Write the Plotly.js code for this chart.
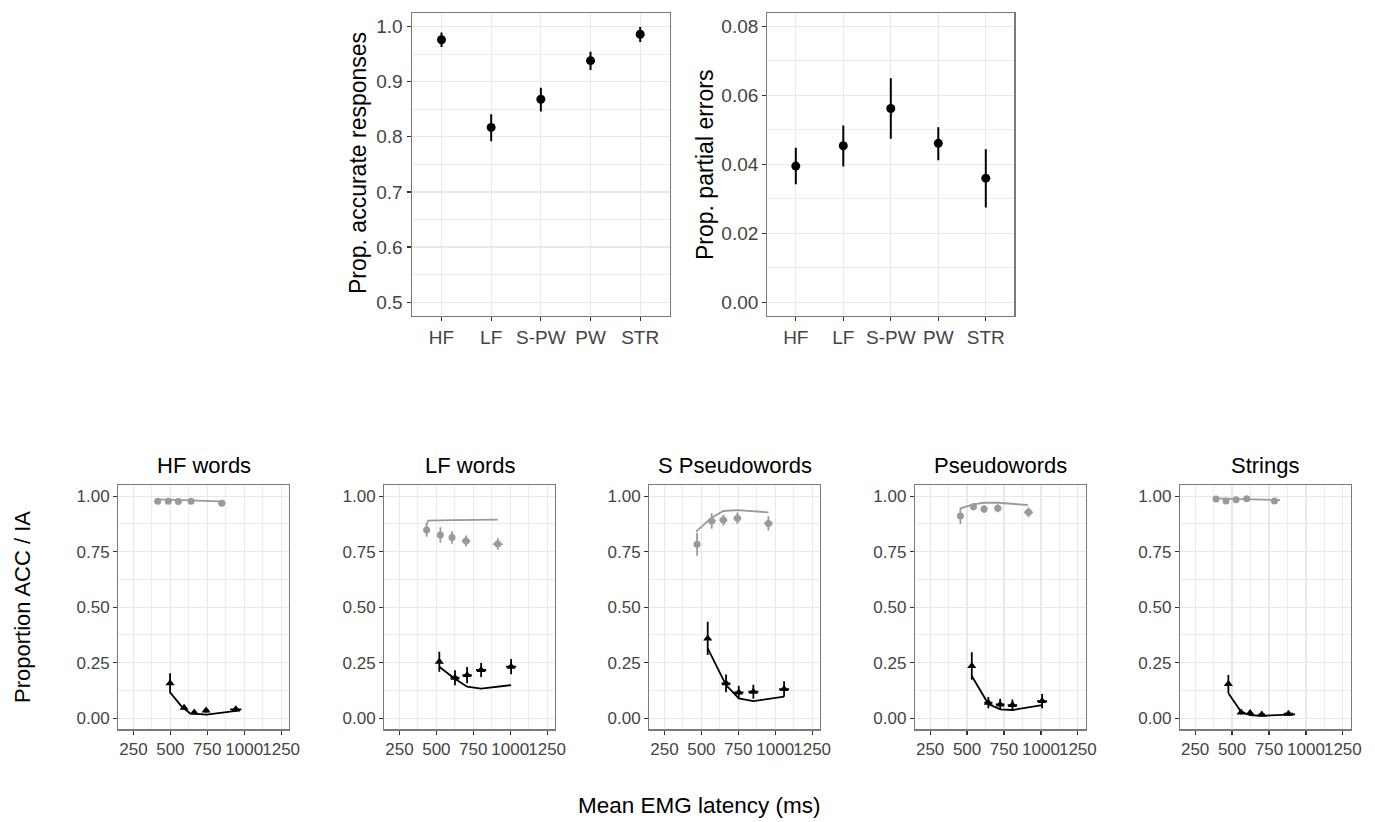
<!DOCTYPE html>
<html><head><meta charset="utf-8">
<script src="https://cdn.plot.ly/plotly-3.0.1.min.js"></script>
<style>html,body{margin:0;padding:0;background:#fff}#chart{width:1375px;height:822px}</style>
</head><body><div id="chart"></div>
<script>
// ---------- Top panels ----------
const categories = ['HF', 'LF', 'S-PW', 'PW', 'STR'];
const propAccurate   = [0.976, 0.817, 0.868, 0.938, 0.986];
const propAccurateLo = [0.963, 0.792, 0.846, 0.921, 0.972];
const propAccurateHi = [0.989, 0.841, 0.889, 0.954, 0.999];
const propPartial    = [0.0395, 0.0454, 0.0562, 0.0461, 0.0360];
const propPartialLo  = [0.0342, 0.0394, 0.0474, 0.0412, 0.0275];
const propPartialHi  = [0.0448, 0.0513, 0.0650, 0.0508, 0.0444];

// ---------- Bottom panels (one inner array per panel) ----------
const panelTitles = ['HF words', 'LF words', 'S Pseudowords', 'Pseudowords', 'Strings'];
const xTicks = [250, 500, 750, 1000, 1250];
const yTicks = [0, 0.25, 0.5, 0.75, 1.0];

// accuracy (grey): observed
const accLatency = [
  [414, 486, 554, 640, 848],
  [434, 527, 606, 701, 916],
  [471, 570, 649, 744, 954],
  [455, 543, 615, 708, 916],
  [391, 459, 527, 599, 787]
];
const accObserved = [
  [0.977, 0.977, 0.976, 0.977, 0.968],
  [0.847, 0.825, 0.814, 0.798, 0.784],
  [0.783, 0.888, 0.892, 0.900, 0.877],
  [0.910, 0.952, 0.942, 0.945, 0.927],
  [0.987, 0.978, 0.984, 0.988, 0.978]
];
const accErrY = [
  [0.006, 0.005, 0.005, 0.005, 0.008],
  [0.030, 0.035, 0.028, 0.025, 0.026],
  [0.052, 0.035, 0.024, 0.026, 0.032],
  [0.036, 0.016, 0.018, 0.018, 0.022],
  [0.004, 0.005, 0.004, 0.004, 0.006]
];
const accErrX = [
  [8, 8, 8, 10, 24],
  [8, 10, 14, 29, 34],
  [6, 27, 27, 27, 30],
  [6, 22, 22, 26, 30],
  [8, 8, 8, 8, 18]
];
// accuracy (grey): model prediction
const accPredLatency = [
  [403, 486, 554, 640, 870],
  [434, 445, 606, 916],
  [464, 570, 649, 744, 954],
  [455, 543, 615, 708, 911],
  [385, 459, 527, 599, 825]
];
const accPredicted = [
  [0.985, 0.984, 0.983, 0.981, 0.975],
  [0.872, 0.890, 0.892, 0.894],
  [0.840, 0.903, 0.933, 0.937, 0.927],
  [0.945, 0.963, 0.970, 0.970, 0.960],
  [0.990, 0.989, 0.988, 0.987, 0.982]
];

// incorrect activations (black): observed
const iaLatency = [
  [498, 593, 662, 742, 943],
  [520, 626, 708, 803, 1006],
  [543, 667, 753, 852, 1060],
  [532, 644, 724, 807, 1008],
  [475, 561, 622, 701, 882]
];
const iaObserved = [
  [0.157, 0.047, 0.026, 0.035, 0.040],
  [0.254, 0.182, 0.194, 0.217, 0.232],
  [0.359, 0.157, 0.116, 0.119, 0.131],
  [0.235, 0.070, 0.062, 0.059, 0.077],
  [0.154, 0.026, 0.023, 0.017, 0.020]
];
const iaErrY = [
  [0.045, 0.010, 0.008, 0.010, 0.010],
  [0.045, 0.034, 0.037, 0.032, 0.034],
  [0.075, 0.040, 0.030, 0.032, 0.035],
  [0.062, 0.025, 0.025, 0.025, 0.032],
  [0.040, 0.008, 0.008, 0.006, 0.008]
];
const iaErrX = [
  [8, 12, 14, 18, 38],
  [14, 30, 32, 34, 34],
  [14, 30, 32, 34, 34],
  [12, 28, 30, 32, 34],
  [8, 14, 16, 22, 32]
];
// incorrect activations (black): model prediction
const iaPredLatency = [
  [498, 577, 633, 746, 972],
  [520, 622, 708, 803, 1006],
  [543, 667, 753, 852, 1060],
  [532, 644, 724, 807, 1008],
  [475, 561, 622, 701, 927]
];
const iaPredicted = [
  [0.116, 0.052, 0.022, 0.016, 0.035],
  [0.232, 0.179, 0.142, 0.133, 0.149],
  [0.314, 0.149, 0.089, 0.077, 0.097],
  [0.190, 0.064, 0.040, 0.037, 0.059],
  [0.112, 0.029, 0.014, 0.011, 0.017]
];

// ---------- styling ----------
const FONT = 'Liberation Sans, Arial, Helvetica, sans-serif';
const GREY = '#9a9a9a';
const GRID = '#e8e8e8';
const BORDER = '#7a7a7a';
const TICKC = '#444444';
const W = 1375, H = 822;
const px = (a, b) => [a / W, b / W];
const py = (top, bottom) => [1 - bottom / H, 1 - top / H];

const traces = [];
const layout = {
  width: W, height: H,
  margin: {l: 0, r: 0, t: 0, b: 0},
  paper_bgcolor: '#fff', plot_bgcolor: '#fff',
  showlegend: false,
  font: {family: FONT, color: '#000'},
  annotations: []
};

function baseAxis(extra) {
  return Object.assign({
    showline: true, mirror: true, linecolor: BORDER, linewidth: 1.2,
    ticks: 'outside', ticklen: 4, tickwidth: 1.2, tickcolor: '#333',
    showgrid: true, gridcolor: GRID, gridwidth: 1.2,
    zeroline: false, fixedrange: true, tickangle: 0, automargin: false,
    tickfont: {family: FONT, size: 19, color: TICKC}
  }, extra);
}

// Top-left panel
traces.push({
  type: 'scatter', mode: 'markers', xaxis: 'x', yaxis: 'y',
  x: categories, y: propAccurate,
  marker: {color: '#000', size: 9},
  error_y: {type: 'data', symmetric: false,
    array: propAccurate.map((v, i) => propAccurateHi[i] - v),
    arrayminus: propAccurate.map((v, i) => v - propAccurateLo[i]),
    width: 0, thickness: 2, color: '#000'}
});
layout.xaxis = baseAxis({domain: px(411.7, 670), anchor: 'y', type: 'category',
  categoryorder: 'array', categoryarray: categories, range: [-0.6, 4.6]});
layout.yaxis = baseAxis({domain: py(12.7, 316), anchor: 'x', range: [0.475, 1.025],
  tickvals: [0.5, 0.6, 0.7, 0.8, 0.9, 1.0], tickformat: '.1f',
  minor: {tickvals: [0.55, 0.65, 0.75, 0.85, 0.95], showgrid: true, gridcolor: GRID, gridwidth: 0.8, ticks: ''}});

// Top-right panel
traces.push({
  type: 'scatter', mode: 'markers', xaxis: 'x2', yaxis: 'y2',
  x: categories, y: propPartial,
  marker: {color: '#000', size: 9},
  error_y: {type: 'data', symmetric: false,
    array: propPartial.map((v, i) => propPartialHi[i] - v),
    arrayminus: propPartial.map((v, i) => v - propPartialLo[i]),
    width: 0, thickness: 2, color: '#000'}
});
layout.xaxis2 = baseAxis({domain: px(767.3, 1014.3), anchor: 'y2', type: 'category',
  categoryorder: 'array', categoryarray: categories, range: [-0.6, 4.6]});
layout.yaxis2 = baseAxis({domain: py(12.7, 316), anchor: 'x2', range: [-0.004, 0.084],
  tickvals: [0, 0.02, 0.04, 0.06, 0.08], tickformat: '.2f',
  minor: {tickvals: [0.01, 0.03, 0.05, 0.07], showgrid: true, gridcolor: GRID, gridwidth: 0.8, ticks: ''}});

layout.annotations.push({text: 'Prop. accurate responses', xref: 'paper', yref: 'paper',
  x: 358 / W, y: 1 - 163 / H, xanchor: 'center', yanchor: 'middle', textangle: -90,
  showarrow: false, font: {family: FONT, size: 23, color: '#000'}});
layout.annotations.push({text: 'Prop. partial errors', xref: 'paper', yref: 'paper',
  x: 705 / W, y: 1 - 165 / H, xanchor: 'center', yanchor: 'middle', textangle: -90,
  showarrow: false, font: {family: FONT, size: 23, color: '#000'}});

// Bottom panels
const panelLeft = [118.3, 384.3, 649.3, 915, 1180];
const panelWidth = 170.6;
for (let i = 0; i < 5; i++) {
  const n = i + 3;
  const xa = 'x' + n, ya = 'y' + n;
  traces.push({type: 'scatter', mode: 'lines', xaxis: xa, yaxis: ya,
    x: accPredLatency[i], y: accPredicted[i], line: {color: GREY, width: 1.8}});
  traces.push({type: 'scatter', mode: 'lines', xaxis: xa, yaxis: ya,
    x: iaPredLatency[i], y: iaPredicted[i], line: {color: '#000', width: 1.8}});
  traces.push({type: 'scatter', mode: 'markers', xaxis: xa, yaxis: ya,
    x: accLatency[i], y: accObserved[i],
    marker: {color: GREY, size: 7, symbol: 'circle'},
    error_y: {type: 'data', array: accErrY[i], width: 0, thickness: 1.8, color: GREY},
    error_x: {type: 'data', array: accErrX[i], width: 0, thickness: 1.8, color: GREY}});
  traces.push({type: 'scatter', mode: 'markers', xaxis: xa, yaxis: ya,
    x: iaLatency[i], y: iaObserved[i],
    marker: {color: '#000', size: 8, symbol: 'triangle-up'},
    error_y: {type: 'data', array: iaErrY[i], width: 0, thickness: 1.8, color: '#000'},
    error_x: {type: 'data', array: iaErrX[i], width: 0, thickness: 1.8, color: '#000'}});

  layout['xaxis' + n] = baseAxis({domain: px(panelLeft[i], panelLeft[i] + panelWidth), anchor: ya,
    range: [147.5, 1302.5], tickmode: 'array', tickvals: xTicks, ticktext: xTicks.map(String),
    tickangle: 0, tickfont: {family: FONT, size: 17, color: TICKC},
    minor: {tickvals: [375, 625, 875, 1125], showgrid: true, gridcolor: GRID, gridwidth: 0.8, ticks: ''}});
  layout['yaxis' + n] = baseAxis({domain: py(485, 729.3), anchor: xa,
    range: [-0.05, 1.05], tickvals: yTicks, tickformat: '.2f',
    tickfont: {family: FONT, size: 17, color: TICKC},
    minor: {tickvals: [0.125, 0.375, 0.625, 0.875], showgrid: true, gridcolor: GRID, gridwidth: 0.8, ticks: ''}});

  layout.annotations.push({text: panelTitles[i], xref: 'paper', yref: 'paper',
    x: (panelLeft[i] + panelWidth / 2) / W, y: 1 - 465 / H, xanchor: 'center', yanchor: 'middle',
    showarrow: false, font: {family: FONT, size: 22, color: '#000'}});
}

layout.annotations.push({text: 'Proportion ACC / IA', xref: 'paper', yref: 'paper',
  x: 22 / W, y: 1 - 607 / H, xanchor: 'center', yanchor: 'middle', textangle: -90,
  showarrow: false, font: {family: FONT, size: 22, color: '#000'}});
layout.annotations.push({text: 'Mean EMG latency (ms)', xref: 'paper', yref: 'paper',
  x: 699 / W, y: 1 - 805 / H, xanchor: 'center', yanchor: 'middle',
  showarrow: false, font: {family: FONT, size: 22.5, color: '#000'}});

Plotly.newPlot('chart', traces, layout, {staticPlot: true, displayModeBar: false});
</script></body></html>
